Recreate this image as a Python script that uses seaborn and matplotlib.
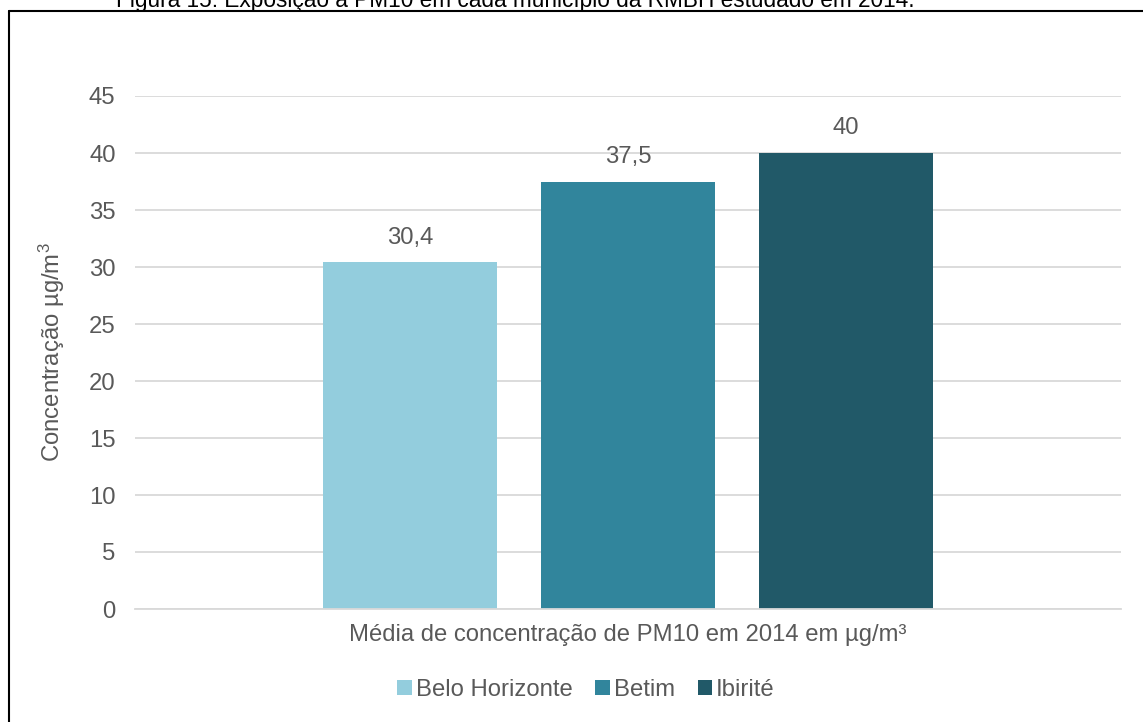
import matplotlib
matplotlib.use("Agg")
import matplotlib.pyplot as plt
from matplotlib.lines import Line2D
import pandas as pd
import seaborn as sns

# Data
categoria = ["Média de concentração de PM10 em 2014 em µg/m³"]
municipios = ["Belo Horizonte", "Betim", "Ibirité"]
valores = [30.4, 37.5, 40.0]
rotulos = ["30,4", "37,5", "40"]
cores = ["#93CDDD", "#31859C", "#215968"]
yticks = [0, 5, 10, 15, 20, 25, 30, 35, 40, 45]

titulo = "Figura 15: Exposição a PM10 em cada município da RMBH estudado em 2014."
ylabel = r"Concentração µg/m$\mathregular{^3}$"

df = pd.DataFrame({
    "categoria": categoria * len(municipios),
    "municipio": municipios,
    "valor": valores,
})

sns.set_theme(style="white")
plt.rcParams["font.family"] = ["Liberation Sans", "DejaVu Sans"]
plt.rcParams["mathtext.fontset"] = "custom"
plt.rcParams["mathtext.rm"] = "Liberation Sans"

W, H = 1143, 722
fig = plt.figure(figsize=(W / 100, H / 100), dpi=100)
ax = fig.add_axes([135 / W, 1 - 609 / H, (1121 - 135) / W, (609 - 96) / H])

texto = "#595959"
grade = "#D9D9D9"
fs = 17.2

sns.barplot(
    data=df, x="categoria", y="valor", hue="municipio",
    hue_order=municipios, palette=cores, width=0.662, gap=0.2,
    saturation=1, linewidth=0, ax=ax,
)

ax.set_xlim(-0.5, 0.5)
ax.set_ylim(0, 45)
ax.set_yticks(yticks)
ax.set_yticklabels([str(t) for t in yticks])
ax.set_axisbelow(True)
ax.yaxis.grid(True, color=grade, linewidth=1.3)
ax.xaxis.grid(False)

for s in ["top", "right", "left"]:
    ax.spines[s].set_visible(False)
ax.spines["bottom"].set_color(grade)
ax.spines["bottom"].set_linewidth(1.3)

ax.tick_params(axis="y", length=0, pad=14, labelsize=fs, labelcolor=texto)
ax.tick_params(axis="x", which="major", length=0, pad=11, labelsize=fs, labelcolor=texto)
ax.set_xticks([-0.5, 0.5], minor=True)
ax.tick_params(axis="x", which="minor", length=4, width=1.3, color=grade, direction="out")

ax.set_xlabel("")
ax.set_ylabel(ylabel, fontsize=fs, color=texto, labelpad=16)

# value labels above each bar
for cont, rot in zip(ax.containers, rotulos):
    ax.bar_label(cont, labels=[rot], padding=10, fontsize=fs, color=texto)

# legend below the axis label
handles, labels = ax.get_legend_handles_labels()
if ax.get_legend() is not None:
    ax.get_legend().remove()
fig.legend(
    handles, labels, loc="center", bbox_to_anchor=(586 / W, 1 - 690 / H),
    ncol=3, frameon=False, fontsize=fs, labelcolor=texto,
    handlelength=0.62, handleheight=0.62, handletextpad=0.15,
    columnspacing=0.95, borderaxespad=0,
)

# caption above the framed chart
fig.text(515 / W, 1 - 7.5 / H, titulo, ha="center", va="baseline",
         fontsize=16.3, color="black")

# chart frame (left and top edges)
yt = 1 - 11 / H
xl = 9 / W
fig.add_artist(Line2D([xl, xl], [0, yt], color="black", linewidth=1.5,
                      transform=fig.transFigure))
fig.add_artist(Line2D([xl, 1.0], [yt, yt], color="black", linewidth=1.5,
                      transform=fig.transFigure))

fig.savefig("out.png", dpi=100)
